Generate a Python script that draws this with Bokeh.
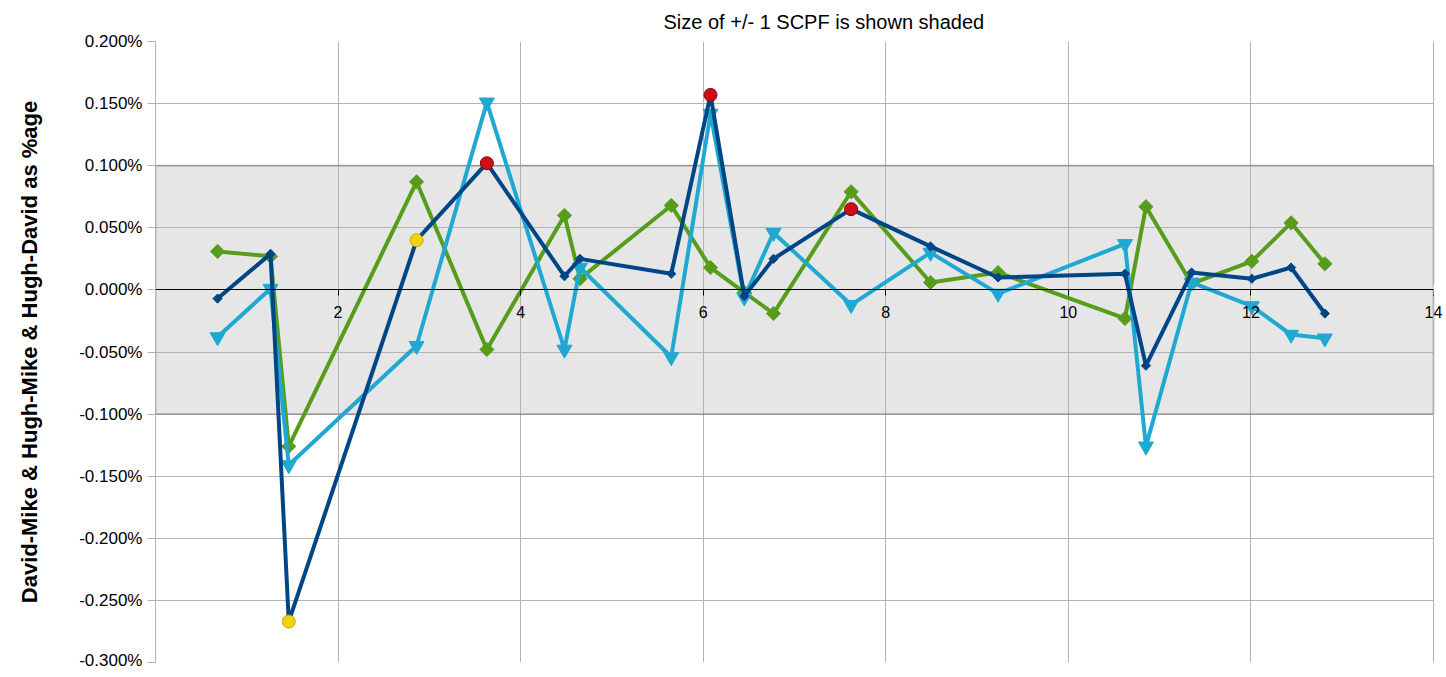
import math
from bokeh.plotting import figure
from bokeh.models import (BoxAnnotation, FixedTicker, PrintfTickFormatter, Range1d, Title, Span)
from bokeh.embed import file_html
from bokeh.resources import INLINE

# ---- data (values in percent) ----
x_vals = [0.68, 1.26, 1.46, 2.86, 3.63, 4.48, 4.65, 5.65, 6.08, 6.45,
          6.77, 7.62, 8.49, 9.23, 10.62, 10.85, 11.35, 12.01, 12.44, 12.81]

david_mike = [-0.007, 0.029, -0.267, 0.040, 0.102, 0.011, 0.025, 0.013, 0.157, -0.005,
              0.025, 0.065, 0.035, 0.010, 0.013, -0.061, 0.014, 0.009, 0.018, -0.019]
hugh_mike = [0.031, 0.027, -0.126, 0.087, -0.048, 0.060, 0.009, 0.068, 0.018, -0.002,
             -0.019, 0.079, 0.006, 0.014, -0.023, 0.067, 0.005, 0.023, 0.054, 0.021]
hugh_david = [-0.038, 0.001, -0.141, -0.045, 0.151, -0.048, 0.018, -0.054, 0.142, -0.006,
              0.046, -0.012, 0.030, -0.003, 0.037, -0.126, 0.006, -0.013, -0.036, -0.039]

yellow_x = [1.46, 2.86]
yellow_y = [-0.267, 0.040]
red_x = [3.63, 6.08, 7.62]
red_y = [0.102, 0.157, 0.065]

band_low, band_high = -0.1, 0.1
x_ticks = [2, 4, 6, 8, 10, 12, 14]
y_ticks = [-0.3, -0.25, -0.2, -0.15, -0.1, -0.05, 0.0, 0.05, 0.1, 0.15, 0.2]
x_min, x_max = 0, 14
y_min, y_max = -0.3, 0.2

title_text = "Size of +/- 1 SCPF is shown shaded"
y_label = "David-Mike & Hugh-Mike & Hugh-David as %age"

FONT = "Liberation Sans"

# The frame is extended a little to the right of x=14 (blanked) so that the
# last tick label "14", which straddles the chart's right edge, is not clipped.
EXTRA = 11 / 91.2857
p = figure(width=1444, height=669, output_backend="svg", toolbar_location=None,
           x_range=Range1d(x_min, x_max + EXTRA), y_range=Range1d(y_min, y_max),
           min_border_left=155, min_border_right=0, min_border_top=41, min_border_bottom=7)
p.title = Title(text=title_text, align="left", offset=508, text_font=FONT,
                text_font_size="20px", text_font_style="normal", text_color="#000000",
                standoff=17)
p.background_fill_color = "white"
p.border_fill_color = "white"
p.outline_line_color = None

# grids
p.xgrid.ticker = FixedTicker(ticks=x_ticks)
p.ygrid.ticker = FixedTicker(ticks=y_ticks)
p.grid.grid_line_color = "#b3b3b3"
p.grid.grid_line_width = 1

# shaded band
p.add_layout(BoxAnnotation(bottom=band_low, top=band_high, right=x_max, fill_color="#e6e6e6",
                           fill_alpha=1.0, line_alpha=0, level="image"))
# blank the strip right of x=14
p.add_layout(BoxAnnotation(left=x_max, fill_color="white", fill_alpha=1.0, line_alpha=0,
                           level="underlay"))
p.add_layout(BoxAnnotation(bottom=band_low, top=band_high, right=x_max, fill_alpha=0,
                           line_color="#4d4d4d", line_width=2, level="underlay"))
p.add_layout(Span(location=x_max, dimension="height", line_color="#b3b3b3", line_width=1,
                  level="underlay"))

# y axis
yax = p.yaxis[0]
yax.ticker = FixedTicker(ticks=y_ticks)
yax.formatter = PrintfTickFormatter(format="%.3f%%")
yax.axis_line_color = "#b3b3b3"
yax.major_tick_line_color = "#b3b3b3"
yax.major_tick_in = 0
yax.major_tick_out = 8
yax.minor_tick_line_color = None
yax.major_label_standoff = 5
yax.major_label_text_font = FONT
yax.major_label_text_font_size = "17px"
yax.major_label_text_color = "#000000"
yax.axis_label = y_label
yax.axis_label_text_font = FONT
yax.axis_label_text_font_size = "22px"
yax.axis_label_text_font_style = "bold"
yax.axis_label_text_color = "#000000"
yax.axis_label_standoff = 34

# x axis at zero
xax = p.xaxis[0]
xax.fixed_location = 0
xax.ticker = FixedTicker(ticks=x_ticks)
xax.axis_line_color = "#000000"
xax.axis_line_width = 1
xax.major_tick_line_color = "#000000"
xax.major_tick_in = 0
xax.major_tick_out = 6
xax.minor_tick_line_color = None
xax.major_label_standoff = 10
xax.major_label_text_font = FONT
xax.major_label_text_font_size = "16px"
xax.major_label_text_color = "#000000"
# hide the bit of the zero line beyond x=14
p.add_layout(BoxAnnotation(left=x_max, bottom=-0.004, top=0.004, fill_color="white",
                           fill_alpha=1.0, line_alpha=0, level="overlay"))

# series
GREEN = "#579d1c"
CYAN = "#1fa8d2"
NAVY = "#004586"

p.line(x_vals, hugh_mike, line_color=GREEN, line_width=4)
p.scatter(x_vals, hugh_mike, marker="square", angle=math.pi / 4, size=10,
          fill_color=GREEN, line_color=GREEN)

p.line(x_vals, hugh_david, line_color=CYAN, line_width=4)
p.scatter(x_vals, hugh_david, marker="inverted_triangle", size=15,
          fill_color=CYAN, line_color=CYAN)

p.line(x_vals, david_mike, line_color=NAVY, line_width=4)
p.scatter(x_vals, david_mike, marker="square", angle=math.pi / 4, size=6.5,
          fill_color=NAVY, line_color=NAVY)

p.scatter(yellow_x, yellow_y, marker="circle", size=13, fill_color="#f5d010",
          line_color="#c9a800", line_width=1)
p.scatter(red_x, red_y, marker="circle", size=13, fill_color="#cc1018",
          line_color="#8a0008", line_width=1)

open("out.html", "w").write(file_html(p, INLINE))
